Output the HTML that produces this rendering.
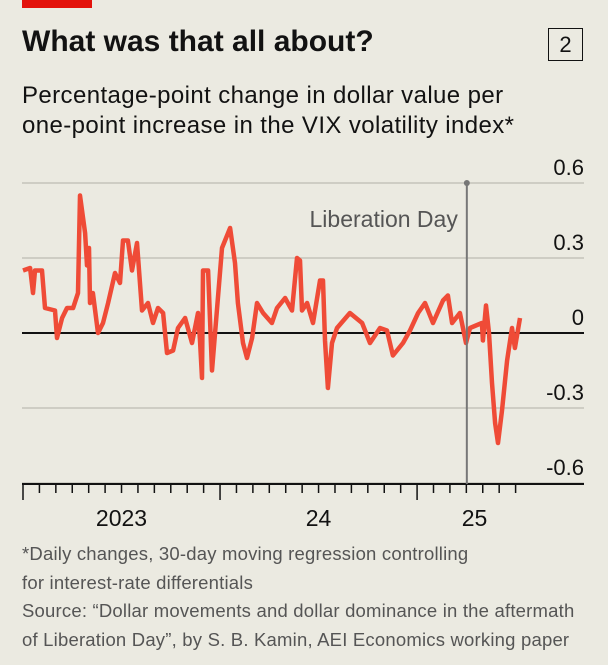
<!DOCTYPE html>
<html><head><meta charset="utf-8">
<style>
html,body{margin:0;padding:0;background:#ebeae1;}
body{width:608px;height:665px;position:relative;overflow:hidden;font-family:"Liberation Sans",sans-serif;color:#121212;}
.abs{position:absolute;white-space:nowrap;}
</style></head>
<body>
<div class="abs" style="left:22px;top:0;width:70px;height:8px;background:#e3120b;"></div>
<div class="abs" style="left:22px;top:25px;font-size:30px;font-weight:bold;">What was that all about?</div>
<div class="abs" style="left:548px;top:28px;width:33px;height:31px;border:1.5px solid #121212;font-size:22px;text-align:center;line-height:31px;">2</div>
<div class="abs" style="left:22px;top:81px;font-size:24px;letter-spacing:0.4px;line-height:30px;">Percentage-point change in dollar value per<br>one-point increase in the VIX volatility index*</div>
<svg class="abs" style="left:0;top:0" width="608" height="665">
<g id="grid"></g><g id="axis"></g><g id="series"></g><g id="ann"></g>
</svg>
<div class="abs" style="left:22px;top:540px;font-size:18.5px;letter-spacing:0.2px;line-height:28.5px;color:#555;">*Daily changes, 30-day moving regression controlling<br>for interest-rate differentials<br>Source: “Dollar movements and dollar dominance in the aftermath<br>of Liberation Day”, by S. B. Kamin, AEI Economics working paper</div>
<script>
const months=[0,0.43,0.61,0.73,1.16,1.34,1.95,2.07,2.38,2.68,3.05,3.35,3.47,3.78,3.9,4.02,4.08,4.26,4.57,4.87,5.18,5.6,5.91,6.09,6.39,6.64,6.94,7.25,7.61,7.92,8.22,8.53,8.77,9.14,9.44,9.87,10.29,10.66,10.78,10.9,10.96,11.27,11.51,11.81,12.12,12.61,12.91,13.09,13.4,13.64,13.95,14.25,14.62,15.16,15.47,15.96,16.38,16.69,16.87,16.99,17.3,17.66,18.09,18.27,18.39,18.57,18.82,19.12,19.91,20.65,21.13,21.74,22.17,22.53,23.14,23.57,24.06,24.48,24.97,25.58,25.88,26.13,26.61,26.98,27.22,27.95,28.01,28.2,28.38,28.56,28.75,28.93,29.17,29.48,29.78,29.96,30.27];
const values=[0.25,0.26,0.16,0.25,0.25,0.1,0.09,-0.02,0.06,0.1,0.1,0.16,0.55,0.4,0.27,0.34,0.12,0.16,0,0.04,0.12,0.24,0.2,0.37,0.37,0.25,0.36,0.09,0.12,0.04,0.1,0.08,-0.08,-0.07,0.02,0.06,-0.04,0.08,-0.03,-0.18,0.25,0.25,-0.15,0.09,0.34,0.42,0.28,0.12,-0.04,-0.1,-0.02,0.12,0.08,0.04,0.1,0.14,0.09,0.3,0.29,0.09,0.12,0.04,0.21,0.21,-0.03,-0.22,-0.04,0.02,0.08,0.04,-0.04,0.02,0.01,-0.09,-0.04,0.01,0.08,0.12,0.04,0.13,0.15,0.04,0.08,-0.04,0.02,0.04,-0.03,0.11,0,-0.2,-0.36,-0.44,-0.31,-0.11,0.02,-0.06,0.06];
const yTicks=[0.6,0.3,0,-0.3,-0.6];
const yTickLabels=["0.6","0.3","0","-0.3","-0.6"];
const yearStarts=[0,12,24];
const yearLabels=["2023","24","25"];
const yearLabelMonths=[6,18,27.5];
const libDay=27.03;
const NS="http://www.w3.org/2000/svg";
const X=m=>23+m*16.42;
const Y=v=>333-v*250;
function mk(tag,attrs,parent){const e=document.createElementNS(NS,tag);for(const k in attrs)e.setAttribute(k,attrs[k]);document.getElementById(parent).appendChild(e);return e;}
yTicks.forEach((v,i)=>{
 const l=mk('line',{x1:22,x2:584,y1:Y(v),y2:Y(v),stroke:v===0?'#121212':'#bdbcb2','stroke-width':v===0?2:1.2},'grid');
 
 
 const t=mk('text',{x:584,y:Y(v)-8,'text-anchor':'end','font-size':22,fill:'#121212','font-family':'Liberation Sans, sans-serif'},'grid');
 t.textContent=yTickLabels[i];
 
 
});
const ax=mk('line',{x1:22,x2:584,y1:484,y2:484,stroke:'#121212','stroke-width':2},'axis');


for(let m=0;m<=30;m++){
 const major=yearStarts.includes(m);
 const t=mk('line',{x1:X(m),x2:X(m),y1:484,y2:major?500:493,stroke:'#121212','stroke-width':1.5},'axis');
 
 
}
yearLabels.forEach((s,i)=>{
 const t=mk('text',{x:X(yearLabelMonths[i]),y:526,'text-anchor':'middle','font-size':23,fill:'#121212','font-family':'Liberation Sans, sans-serif'},'axis');
 t.textContent=s;
 
 
});
const vl=mk('line',{x1:X(libDay),x2:X(libDay),y1:183,y2:484,stroke:'#777','stroke-width':2},'ann');


const dot=mk('circle',{cx:X(libDay),cy:183,r:3,fill:'#777'},'ann');


const lt=mk('text',{x:X(libDay)-9,y:227,'text-anchor':'end','font-size':23,fill:'#555','font-family':'Liberation Sans, sans-serif'},'ann');
lt.textContent='Liberation Day';


const d=months.map((m,i)=>(i?'L':'M')+X(m).toFixed(1)+' '+Y(values[i]).toFixed(1)).join(' ');
const p=mk('path',{d:d,fill:'none',stroke:'#ef4b37','stroke-width':4.5,'stroke-linejoin':'round'},'series');


</script>
</body></html>
